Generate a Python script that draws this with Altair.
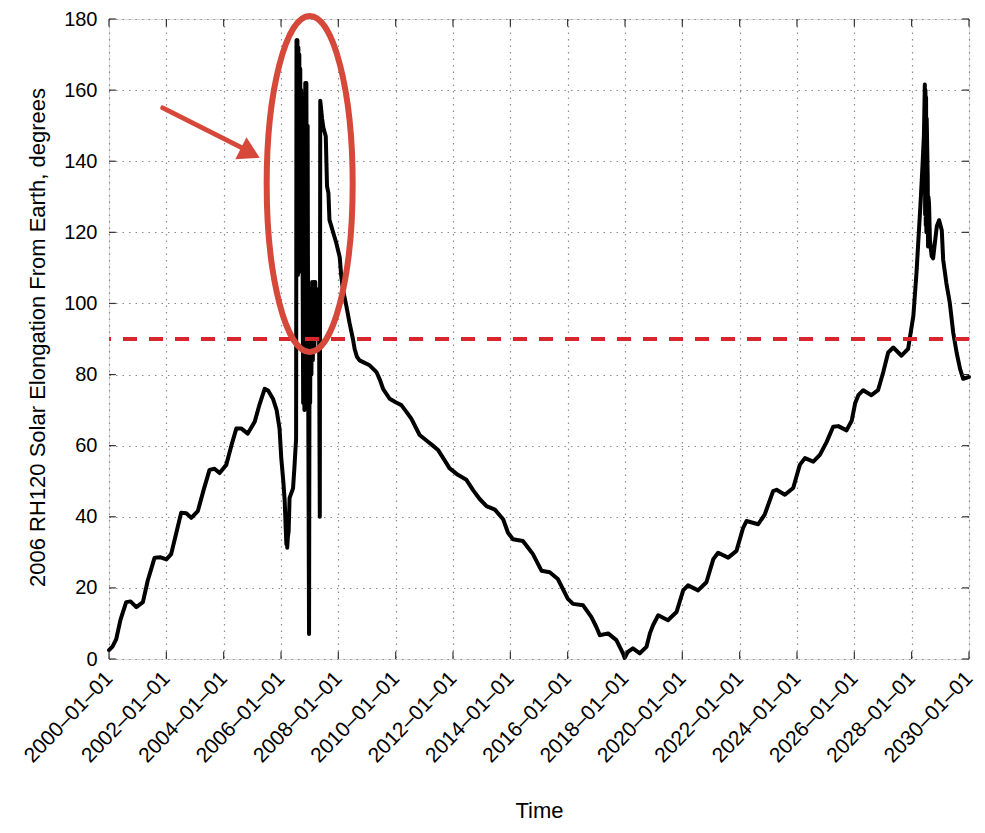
import altair as alt
import pandas as pd

# ---------------- data ----------------
dates = [
    "2000-01-01", "2000-02-14", "2000-04-01", "2000-05-26", "2000-08-07", "2000-10-01",
    "2000-12-14", "2001-03-08", "2001-05-08", "2001-08-04", "2001-10-20", "2002-01-01",
    "2002-03-03", "2002-05-08", "2002-07-08", "2002-09-12", "2002-11-14", "2003-02-06",
    "2003-04-20", "2003-07-05", "2003-09-06", "2003-11-10", "2004-02-03", "2004-04-08",
    "2004-06-10", "2004-08-15", "2004-11-03", "2005-01-30", "2005-04-01", "2005-06-06",
    "2005-07-20", "2005-09-20", "2005-11-06", "2005-12-13", "2006-01-04", "2006-01-30",
    "2006-02-17", "2006-03-03", "2006-03-10", "2006-03-16", "2006-03-21", "2006-03-28",
    "2006-04-08", "2006-04-20", "2006-06-03", "2006-06-21", "2006-07-12",
    # temporary capture (dense oscillation)
    "2006-07-17", "2006-07-23", "2006-07-29", "2006-08-04", "2006-08-10", "2006-08-16",
    "2006-08-22", "2006-08-28", "2006-09-03", "2006-09-09", "2006-09-15", "2006-09-21",
    "2006-09-27", "2006-10-03", "2006-10-10", "2006-10-18", "2006-10-26", "2006-11-06",
    "2006-11-13", "2006-11-20", "2006-11-28", "2006-12-06", "2006-12-14", "2006-12-24",
    "2006-12-31", "2007-01-07", "2007-01-15", "2007-01-23", "2007-02-01", "2007-02-10",
    "2007-02-20", "2007-03-02", "2007-03-13", "2007-03-25", "2007-04-06", "2007-04-18",
    "2007-04-30", "2007-05-10", "2007-05-16", "2007-06-08", "2007-06-24", "2007-07-25",
    "2007-08-10", "2007-08-28", "2007-09-10",
    # decline
    "2007-10-23", "2007-12-06", "2008-01-19", "2008-02-06", "2008-02-28", "2008-04-12",
    "2008-05-22", "2008-07-05", "2008-07-27", "2008-08-25", "2008-09-27", "2009-02-03",
    "2009-05-01", "2009-06-14", "2009-07-24", "2009-10-16", "2010-01-01", "2010-03-14",
    "2010-05-18", "2010-07-19", "2010-11-02", "2011-02-17", "2011-04-20", "2011-06-24",
    "2011-09-13", "2011-11-17", "2012-03-03", "2012-06-20", "2012-09-13", "2012-12-06",
    "2013-03-03", "2013-06-18", "2013-10-01", "2013-12-02", "2014-02-03", "2014-06-10",
    "2014-08-08", "2014-10-16", "2015-02-03", "2015-05-18", "2015-08-29", "2016-01-04",
    "2016-03-10", "2016-07-16", "2016-10-30", "2017-01-01", "2017-02-14", "2017-05-30",
    "2017-09-13", "2017-12-06", "2017-12-28", "2018-02-06", "2018-04-12", "2018-07-08",
    # rise
    "2018-10-01", "2018-11-14", "2018-12-24", "2019-02-28", "2019-07-02", "2019-10-19",
    "2020-01-12", "2020-03-14", "2020-07-20", "2020-11-03", "2021-01-30", "2021-04-01",
    "2021-08-08", "2021-11-21", "2022-02-14", "2022-03-29", "2022-08-25", "2022-11-17",
    "2023-03-03", "2023-04-16", "2023-07-31", "2023-11-14", "2024-02-06", "2024-04-12",
    "2024-07-27", "2024-10-19", "2025-01-12", "2025-04-06", "2025-06-10", "2025-09-24",
    "2025-11-28", "2026-01-12", "2026-02-21", "2026-04-24", "2026-08-07", "2026-10-30",
    "2027-01-05", "2027-03-08", "2027-05-12", "2027-08-25", "2027-11-17", "2028-01-23",
    "2028-03-03", "2028-03-25", "2028-04-23", "2028-05-19", "2028-06-06", "2028-06-17",
    "2028-06-21", "2028-06-25", "2028-06-29", "2028-07-03", "2028-07-07", "2028-07-11",
    "2028-07-24", "2028-07-28", "2028-08-02", "2028-08-10", "2028-08-21", "2028-09-12",
    "2028-10-01", "2028-10-23", "2028-11-17", "2028-12-16", "2029-01-19", "2029-02-06",
    "2029-03-18", "2029-05-01", "2029-06-14", "2029-07-27", "2029-09-09", "2029-10-19",
    "2029-12-24", "2030-01-01",
]

elongation = [
    2.5, 3.5, 5.5, 11, 16, 16.2,
    14.6, 16, 22, 28.5, 28.6, 28,
    29.5, 35.5, 41.1, 41, 39.7, 41.6,
    47.5, 53.2, 53.5, 52.3, 54.6, 60,
    64.8, 64.8, 63.4, 66.7, 71.5, 76,
    75.5, 73.2, 70, 64.8, 56.5, 50,
    44.4, 36, 32.3, 38, 31.3, 34,
    36, 45.3, 48, 54, 62,
    174, 110, 174, 108, 172, 110,
    170, 112, 166, 109, 160, 110,
    150, 109, 72, 100, 70, 162,
    100, 162, 88, 150, 72, 7,
    100, 72, 104, 80, 106, 84,
    106, 88, 106, 90, 104, 94,
    100, 40, 157, 152, 149.5, 147,
    133, 131, 123.5,
    120.3, 117, 113, 108, 104, 99.3,
    94.6, 90, 87.2, 85, 84, 82.6,
    80.7, 78.5, 76, 73.2, 72.2, 71.4,
    69.5, 67.6, 63, 61.1, 60, 58.8,
    56, 53.7, 51.8, 50.4, 47.5, 45,
    43, 42, 39.3, 35.5, 33.7, 33.2,
    31.5, 29.5, 24.8, 24.4, 22.5, 16.9,
    15.5, 15.1, 11.8, 9, 6.7, 7.2,
    5.3, 1.6, 0.3, 2, 3, 1.6,
    3.4, 7.2, 9.5, 12.3, 10.9, 13.2,
    19.3, 20.7, 19.3, 21.6, 28.1, 29.9,
    28.5, 30.4, 36.9, 38.8, 37.9, 40.7,
    47.2, 47.6, 46.2, 48.1, 54.6, 56.5,
    55.5, 57.4, 61, 65.3, 65.5, 64.3,
    67, 72, 74.2, 75.6, 74.2, 75.6,
    80.7, 86.2, 87.6, 85.3, 87.2, 96.5,
    108.6, 117, 128, 139, 147.6, 161.6,
    125, 160, 122, 158, 120, 152,
    135.6, 116, 130, 128, 117.9, 113.3,
    112.7, 117, 121.7, 123.4, 120.6, 112.3,
    105.8, 100.2, 91.8, 86.2, 81.6, 78.8,
    79.3, 79.3,
]

tick_dates = [
    "2000-01-01", "2002-01-01", "2004-01-01", "2006-01-01", "2008-01-01", "2010-01-01",
    "2012-01-01", "2014-01-01", "2016-01-01", "2018-01-01", "2020-01-01", "2022-01-01",
    "2024-01-01", "2026-01-01", "2028-01-01", "2030-01-01",
]
tick_years = [2000, 2002, 2004, 2006, 2008, 2010, 2012, 2014, 2016, 2018, 2020,
              2022, 2024, 2026, 2028, 2030]
y_ticks = [0, 20, 40, 60, 80, 100, 120, 140, 160, 180]
threshold = 90

# ---------------- styling ----------------
FONT = "Liberation Sans"
RED = "#d9262e"
ANNOT = "#d5483a"
GRID = "#8c8c8c"

df = pd.DataFrame({"date": dates, "elong": elongation})

x_scale = alt.Scale(
    type="utc",
    domain=[alt.DateTime(year=2000, month=1, date=1, utc=True),
            alt.DateTime(year=2030, month=1, date=1, utc=True)],
    nice=False,
)
y_scale = alt.Scale(domain=[0, 180], nice=False)

x_axis = alt.Axis(
    values=[alt.DateTime(year=y, month=1, date=1, utc=True) for y in tick_years],
    labelExpr="utcFormat(datum.value, '%Y\u2013%m\u2013%d')",
    labelAngle=314, labelAlign="right", labelBaseline="middle",
    labelPadding=16, labelFontSize=21, labelFont=FONT, labelColor="black",
    labelOverlap=False, labelFlush=False,
    ticks=False, tickSize=0, domain=False,
    grid=True, gridColor=GRID, gridDash=[1.5, 5], gridWidth=1.2,
    title="Time", titleFont=FONT, titleFontSize=22, titleFontWeight="normal",
    titleColor="black", titleX=430, titleY=158, titleAlign="center",
    titleBaseline="alphabetic",
)
y_axis = alt.Axis(
    values=y_ticks,
    labelPadding=12, labelFontSize=20, labelFont=FONT, labelColor="black",
    ticks=False, tickSize=0, domain=False,
    grid=True, gridColor=GRID, gridDash=[1.5, 5], gridWidth=1.2,
    title="2006 RH120 Solar Elongation From Earth, degrees",
    titleFont=FONT, titleFontSize=22, titleFontWeight="normal", titleColor="black",
    titleAngle=270, titleX=-72, titleY=318, titleAlign="center",
    titleBaseline="middle",
)

curve = alt.Chart(df).mark_line(
    color="black", strokeWidth=4, strokeJoin="round", strokeCap="round"
).encode(
    x=alt.X("date:T", scale=x_scale, axis=x_axis),
    y=alt.Y("elong:Q", scale=y_scale, axis=y_axis),
)

limit = alt.Chart(pd.DataFrame({"v": [threshold]})).mark_rule(
    color=RED, strokeWidth=4, strokeDash=[14, 12]
).encode(y=alt.Y("v:Q", scale=y_scale))

# inward tick marks (box on all four sides)
xt = pd.DataFrame({"d": tick_dates, "y0": [0] * len(tick_dates), "y1": [2.1] * len(tick_dates),
                   "t0": [180] * len(tick_dates), "t1": [177.9] * len(tick_dates)})
bottom_ticks = alt.Chart(xt).mark_rule(color="#333", strokeWidth=1.2).encode(
    x=alt.X("d:T", scale=x_scale), y="y0:Q", y2="y1:Q")
top_ticks = alt.Chart(xt).mark_rule(color="#333", strokeWidth=1.2).encode(
    x=alt.X("d:T", scale=x_scale), y="t0:Q", y2="t1:Q")
yt = pd.DataFrame({"v": y_ticks,
                   "l0": ["2000-01-01"] * len(y_ticks), "l1": ["2000-03-28"] * len(y_ticks),
                   "r0": ["2029-10-05"] * len(y_ticks), "r1": ["2030-01-01"] * len(y_ticks)})
left_ticks = alt.Chart(yt).mark_rule(color="#333", strokeWidth=1.2).encode(
    y=alt.Y("v:Q", scale=y_scale), x=alt.X("l0:T", scale=x_scale), x2="l1:T")
right_ticks = alt.Chart(yt).mark_rule(color="#333", strokeWidth=1.2).encode(
    y=alt.Y("v:Q", scale=y_scale), x=alt.X("r0:T", scale=x_scale), x2="r1:T")

# annotation: ellipse around the capture, and an arrow pointing at it
ELLIPSE = ("M0,-1C0.1414,-1 0.256,-0.5523 0.256,0C0.256,0.5523 0.1414,1 0,1"
           "C-0.1414,1 -0.256,0.5523 -0.256,0C-0.256,-0.5523 -0.1414,-1 0,-1Z")
ell = alt.Chart(pd.DataFrame({"d": ["2007-01-01"], "v": [133.6]})).mark_point(
    shape=ELLIPSE, size=112896, filled=False, stroke=ANNOT, strokeWidth=6, opacity=1
).encode(x=alt.X("d:T", scale=x_scale), y=alt.Y("v:Q", scale=y_scale))

shaft = alt.Chart(pd.DataFrame({"d0": ["2001-11-16"], "v0": [155.0],
                                "d1": ["2004-09-23"], "v1": [143.4]})).mark_rule(
    color=ANNOT, strokeWidth=5, strokeCap="round"
).encode(x=alt.X("d0:T", scale=x_scale), y=alt.Y("v0:Q", scale=y_scale),
         x2="d1:T", y2="v1:Q")
head = alt.Chart(pd.DataFrame({"d": ["2004-12-06"], "v": [142.3]})).mark_point(
    shape="triangle-up", size=600, filled=True, color=ANNOT, opacity=1, angle=117
).encode(x=alt.X("d:T", scale=x_scale), y=alt.Y("v:Q", scale=y_scale))

chart = alt.layer(
    curve, limit, bottom_ticks, top_ticks, left_ticks, right_ticks, ell, shaft, head
).properties(
    width=860, height=640,
    autosize=alt.AutoSizeParams(type="none"),
    padding={"left": 101, "top": 11, "right": 8, "bottom": 164},
).configure_view(stroke="#222", strokeWidth=1.5).configure(background="white")

chart.save("out.html", embed_options={"renderer": "svg", "actions": False})
